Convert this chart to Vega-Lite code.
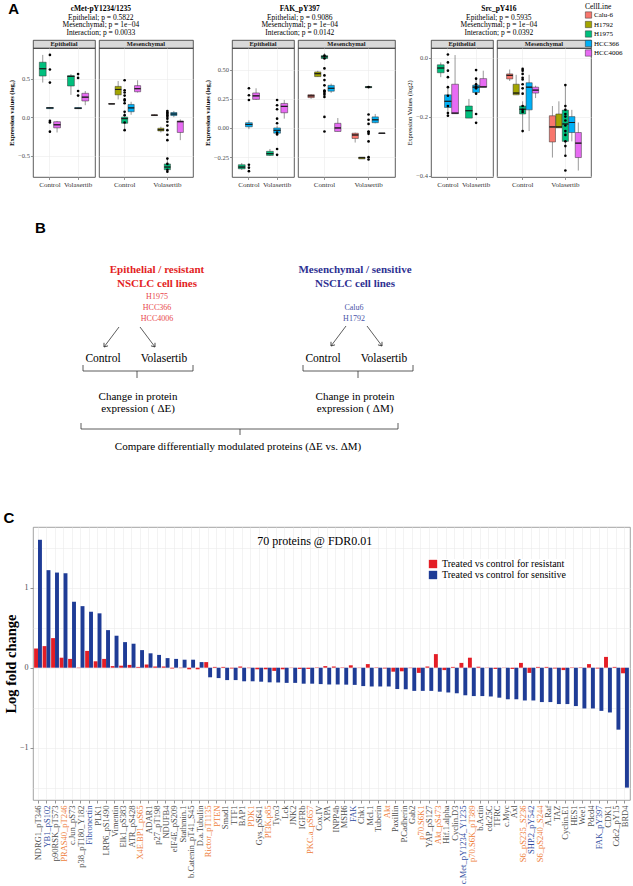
{
"$schema": "https://vega.github.io/schema/vega-lite/v6.json",
"padding": {"left": 3, "top": 2, "right": 0, "bottom": 0},
"background": "white",
"config": {
  "font": "Liberation Serif",
  "axis": {"gridColor": "#EBEBEB", "gridWidth": 0.6, "tickColor": "#4D4D4D", "tickWidth": 0.6, "domain": false, "labelFont": "Liberation Serif", "titleFont": "Liberation Serif", "labelOverlap": false},
  "title": {"font": "Liberation Serif", "color": "#000000"},
  "legend": {"labelFont": "Liberation Serif", "titleFont": "Liberation Serif"},
  "text": {"font": "Liberation Serif"}
},
"datasets": {
  "boxes": [
    {"p":"cMet","g":"E","t":"Control","c":"H1975","lo":0.45,"q1":0.535,"med":0.63,"q3":0.715,"hi":0.81},
    {"p":"cMet","g":"E","t":"Control","c":"HCC366","lo":0.105,"q1":0.11,"med":0.12,"q3":0.125,"hi":0.13},
    {"p":"cMet","g":"E","t":"Control","c":"HCC4006","lo":-0.2,"q1":-0.14,"med":-0.1,"q3":-0.06,"hi":-0.05},
    {"p":"cMet","g":"E","t":"Volasertib","c":"H1975","lo":0.29,"q1":0.405,"med":0.53,"q3":0.54,"hi":0.56},
    {"p":"cMet","g":"E","t":"Volasertib","c":"HCC366","lo":0.105,"q1":0.11,"med":0.115,"q3":0.125,"hi":0.13},
    {"p":"cMet","g":"E","t":"Volasertib","c":"HCC4006","lo":0.155,"q1":0.21,"med":0.26,"q3":0.31,"hi":0.34},
    {"p":"cMet","g":"M","t":"Control","c":"Calu-6","lo":0.17,"q1":0.17,"med":0.172,"q3":0.175,"hi":0.175},
    {"p":"cMet","g":"M","t":"Control","c":"H1792","lo":0.23,"q1":0.29,"med":0.36,"q3":0.4,"hi":0.47},
    {"p":"cMet","g":"M","t":"Control","c":"H1975","lo":-0.155,"q1":-0.08,"med":-0.02,"q3":0.0,"hi":0.08},
    {"p":"cMet","g":"M","t":"Control","c":"HCC366","lo":0.03,"q1":0.07,"med":0.12,"q3":0.165,"hi":0.2},
    {"p":"cMet","g":"M","t":"Control","c":"HCC4006","lo":0.32,"q1":0.33,"med":0.37,"q3":0.41,"hi":0.48},
    {"p":"cMet","g":"M","t":"Volasertib","c":"Calu-6","lo":0.015,"q1":0.02,"med":0.025,"q3":0.03,"hi":0.035},
    {"p":"cMet","g":"M","t":"Volasertib","c":"H1792","lo":-0.2,"q1":-0.18,"med":-0.165,"q3":-0.145,"hi":-0.125},
    {"p":"cMet","g":"M","t":"Volasertib","c":"H1975","lo":-0.71,"q1":-0.685,"med":-0.65,"q3":-0.61,"hi":-0.535},
    {"p":"cMet","g":"M","t":"Volasertib","c":"HCC366","lo":0.0,"q1":0.02,"med":0.04,"q3":0.06,"hi":0.08},
    {"p":"cMet","g":"M","t":"Volasertib","c":"HCC4006","lo":-0.3,"q1":-0.2,"med":-0.06,"q3":-0.05,"hi":-0.03},
    {"p":"FAK","g":"E","t":"Control","c":"H1975","lo":-0.36,"q1":-0.35,"med":-0.335,"q3":-0.315,"hi":-0.3},
    {"p":"FAK","g":"E","t":"Control","c":"HCC366","lo":-0.01,"q1":0.01,"med":0.03,"q3":0.045,"hi":0.065},
    {"p":"FAK","g":"E","t":"Control","c":"HCC4006","lo":0.24,"q1":0.245,"med":0.275,"q3":0.3,"hi":0.34},
    {"p":"FAK","g":"E","t":"Volasertib","c":"H1975","lo":-0.24,"q1":-0.235,"med":-0.22,"q3":-0.2,"hi":-0.18},
    {"p":"FAK","g":"E","t":"Volasertib","c":"HCC366","lo":-0.06,"q1":-0.045,"med":-0.02,"q3":0.0,"hi":0.02},
    {"p":"FAK","g":"E","t":"Volasertib","c":"HCC4006","lo":0.08,"q1":0.13,"med":0.185,"q3":0.21,"hi":0.24},
    {"p":"FAK","g":"M","t":"Control","c":"Calu-6","lo":0.25,"q1":0.26,"med":0.275,"q3":0.285,"hi":0.29},
    {"p":"FAK","g":"M","t":"Control","c":"H1792","lo":0.44,"q1":0.44,"med":0.465,"q3":0.48,"hi":0.49},
    {"p":"FAK","g":"M","t":"Control","c":"H1975","lo":0.59,"q1":0.595,"med":0.61,"q3":0.62,"hi":0.64},
    {"p":"FAK","g":"M","t":"Control","c":"HCC366","lo":0.3,"q1":0.315,"med":0.34,"q3":0.365,"hi":0.38},
    {"p":"FAK","g":"M","t":"Control","c":"HCC4006","lo":-0.03,"q1":-0.03,"med":0.0,"q3":0.04,"hi":0.085},
    {"p":"FAK","g":"M","t":"Volasertib","c":"Calu-6","lo":-0.125,"q1":-0.09,"med":-0.06,"q3":-0.045,"hi":-0.04},
    {"p":"FAK","g":"M","t":"Volasertib","c":"H1792","lo":-0.265,"q1":-0.265,"med":-0.255,"q3":-0.25,"hi":-0.25},
    {"p":"FAK","g":"M","t":"Volasertib","c":"H1975","lo":0.345,"q1":0.345,"med":0.35,"q3":0.355,"hi":0.355},
    {"p":"FAK","g":"M","t":"Volasertib","c":"HCC366","lo":0.04,"q1":0.045,"med":0.07,"q3":0.095,"hi":0.12},
    {"p":"FAK","g":"M","t":"Volasertib","c":"HCC4006","lo":-0.047,"q1":-0.047,"med":-0.045,"q3":-0.043,"hi":-0.043},
    {"p":"Src","g":"E","t":"Control","c":"H1975","lo":-0.066,"q1":-0.051,"med":-0.035,"q3":-0.024,"hi":-0.016},
    {"p":"Src","g":"E","t":"Control","c":"HCC366","lo":-0.197,"q1":-0.169,"med":-0.148,"q3":-0.126,"hi":-0.1},
    {"p":"Src","g":"E","t":"Control","c":"HCC4006","lo":-0.191,"q1":-0.19,"med":-0.188,"q3":-0.09,"hi":0.009},
    {"p":"Src","g":"E","t":"Volasertib","c":"H1975","lo":-0.205,"q1":-0.205,"med":-0.18,"q3":-0.164,"hi":-0.14},
    {"p":"Src","g":"E","t":"Volasertib","c":"HCC366","lo":-0.123,"q1":-0.118,"med":-0.1,"q3":-0.093,"hi":-0.068},
    {"p":"Src","g":"E","t":"Volasertib","c":"HCC4006","lo":-0.1,"q1":-0.1,"med":-0.099,"q3":-0.071,"hi":-0.044},
    {"p":"Src","g":"M","t":"Control","c":"Calu-6","lo":-0.079,"q1":-0.072,"med":-0.06,"q3":-0.055,"hi":-0.04},
    {"p":"Src","g":"M","t":"Control","c":"H1792","lo":-0.126,"q1":-0.126,"med":-0.12,"q3":-0.09,"hi":-0.058},
    {"p":"Src","g":"M","t":"Control","c":"H1975","lo":-0.251,"q1":-0.191,"med":-0.175,"q3":-0.164,"hi":-0.148},
    {"p":"Src","g":"M","t":"Control","c":"HCC366","lo":-0.249,"q1":-0.177,"med":-0.1,"q3":-0.085,"hi":-0.058},
    {"p":"Src","g":"M","t":"Control","c":"HCC4006","lo":-0.137,"q1":-0.12,"med":-0.11,"q3":-0.1,"hi":-0.095},
    {"p":"Src","g":"M","t":"Volasertib","c":"Calu-6","lo":-0.339,"q1":-0.286,"med":-0.235,"q3":-0.197,"hi":-0.164},
    {"p":"Src","g":"M","t":"Volasertib","c":"H1792","lo":-0.238,"q1":-0.238,"med":-0.235,"q3":-0.191,"hi":-0.148},
    {"p":"Src","g":"M","t":"Volasertib","c":"H1975","lo":-0.333,"q1":-0.284,"med":-0.225,"q3":-0.178,"hi":-0.093},
    {"p":"Src","g":"M","t":"Volasertib","c":"HCC366","lo":-0.284,"q1":-0.254,"med":-0.22,"q3":-0.2,"hi":-0.177},
    {"p":"Src","g":"M","t":"Volasertib","c":"HCC4006","lo":-0.383,"q1":-0.339,"med":-0.29,"q3":-0.254,"hi":-0.22}
  ],
  "dots": [
    {"p":"cMet","g":"E","t":"Control","v":0.81},{"p":"cMet","g":"E","t":"Control","v":0.62},{"p":"cMet","g":"E","t":"Control","v":0.45},{"p":"cMet","g":"E","t":"Control","v":-0.05},{"p":"cMet","g":"E","t":"Control","v":-0.07},{"p":"cMet","g":"E","t":"Control","v":-0.19},
    {"p":"cMet","g":"E","t":"Volasertib","v":0.56},{"p":"cMet","g":"E","t":"Volasertib","v":0.51},{"p":"cMet","g":"E","t":"Volasertib","v":0.34},{"p":"cMet","g":"E","t":"Volasertib","v":0.28},
    {"p":"cMet","g":"M","t":"Control","v":0.48},{"p":"cMet","g":"M","t":"Control","v":0.35},{"p":"cMet","g":"M","t":"Control","v":0.32},{"p":"cMet","g":"M","t":"Control","v":0.28},{"p":"cMet","g":"M","t":"Control","v":0.23},{"p":"cMet","g":"M","t":"Control","v":0.215},{"p":"cMet","g":"M","t":"Control","v":0.18},{"p":"cMet","g":"M","t":"Control","v":0.07},{"p":"cMet","g":"M","t":"Control","v":0.025},{"p":"cMet","g":"M","t":"Control","v":-0.07},{"p":"cMet","g":"M","t":"Control","v":-0.17},
    {"p":"cMet","g":"M","t":"Volasertib","v":0.08},{"p":"cMet","g":"M","t":"Volasertib","v":0.06},{"p":"cMet","g":"M","t":"Volasertib","v":0.045},{"p":"cMet","g":"M","t":"Volasertib","v":0.025},{"p":"cMet","g":"M","t":"Volasertib","v":0.005},{"p":"cMet","g":"M","t":"Volasertib","v":-0.02},{"p":"cMet","g":"M","t":"Volasertib","v":-0.06},{"p":"cMet","g":"M","t":"Volasertib","v":-0.11},{"p":"cMet","g":"M","t":"Volasertib","v":-0.17},{"p":"cMet","g":"M","t":"Volasertib","v":-0.23},{"p":"cMet","g":"M","t":"Volasertib","v":-0.3},{"p":"cMet","g":"M","t":"Volasertib","v":-0.54},{"p":"cMet","g":"M","t":"Volasertib","v":-0.61},{"p":"cMet","g":"M","t":"Volasertib","v":-0.685},{"p":"cMet","g":"M","t":"Volasertib","v":-0.71},
    {"p":"FAK","g":"E","t":"Control","v":0.34},{"p":"FAK","g":"E","t":"Control","v":0.28},{"p":"FAK","g":"E","t":"Control","v":0.24},{"p":"FAK","g":"E","t":"Control","v":-0.315},{"p":"FAK","g":"E","t":"Control","v":-0.34},{"p":"FAK","g":"E","t":"Control","v":-0.37},
    {"p":"FAK","g":"E","t":"Volasertib","v":0.24},{"p":"FAK","g":"E","t":"Volasertib","v":0.195},{"p":"FAK","g":"E","t":"Volasertib","v":0.16},{"p":"FAK","g":"E","t":"Volasertib","v":0.08},{"p":"FAK","g":"E","t":"Volasertib","v":0.04},{"p":"FAK","g":"E","t":"Volasertib","v":-0.04},{"p":"FAK","g":"E","t":"Volasertib","v":-0.055},{"p":"FAK","g":"E","t":"Volasertib","v":-0.18},{"p":"FAK","g":"E","t":"Volasertib","v":-0.23},
    {"p":"FAK","g":"M","t":"Control","v":0.62},{"p":"FAK","g":"M","t":"Control","v":0.595},{"p":"FAK","g":"M","t":"Control","v":0.51},{"p":"FAK","g":"M","t":"Control","v":0.45},{"p":"FAK","g":"M","t":"Control","v":0.41},{"p":"FAK","g":"M","t":"Control","v":0.365},{"p":"FAK","g":"M","t":"Control","v":0.32},{"p":"FAK","g":"M","t":"Control","v":0.315},{"p":"FAK","g":"M","t":"Control","v":0.3},{"p":"FAK","g":"M","t":"Control","v":0.285},{"p":"FAK","g":"M","t":"Control","v":0.265},{"p":"FAK","g":"M","t":"Control","v":0.095},{"p":"FAK","g":"M","t":"Control","v":-0.03},
    {"p":"FAK","g":"M","t":"Volasertib","v":0.35},{"p":"FAK","g":"M","t":"Volasertib","v":0.115},{"p":"FAK","g":"M","t":"Volasertib","v":0.07},{"p":"FAK","g":"M","t":"Volasertib","v":0.035},{"p":"FAK","g":"M","t":"Volasertib","v":-0.03},{"p":"FAK","g":"M","t":"Volasertib","v":-0.035},{"p":"FAK","g":"M","t":"Volasertib","v":-0.05},{"p":"FAK","g":"M","t":"Volasertib","v":-0.115},{"p":"FAK","g":"M","t":"Volasertib","v":-0.25},{"p":"FAK","g":"M","t":"Volasertib","v":-0.27},
    {"p":"Src","g":"E","t":"Control","v":0.011},{"p":"Src","g":"E","t":"Control","v":-0.016},{"p":"Src","g":"E","t":"Control","v":-0.044},{"p":"Src","g":"E","t":"Control","v":-0.066},{"p":"Src","g":"E","t":"Control","v":-0.1},{"p":"Src","g":"E","t":"Control","v":-0.129},{"p":"Src","g":"E","t":"Control","v":-0.164},{"p":"Src","g":"E","t":"Control","v":-0.188},{"p":"Src","g":"E","t":"Control","v":-0.197},
    {"p":"Src","g":"E","t":"Volasertib","v":-0.042},{"p":"Src","g":"E","t":"Volasertib","v":-0.071},{"p":"Src","g":"E","t":"Volasertib","v":-0.09},{"p":"Src","g":"E","t":"Volasertib","v":-0.098},{"p":"Src","g":"E","t":"Volasertib","v":-0.104},{"p":"Src","g":"E","t":"Volasertib","v":-0.122},{"p":"Src","g":"E","t":"Volasertib","v":-0.191},{"p":"Src","g":"E","t":"Volasertib","v":-0.221},
    {"p":"Src","g":"M","t":"Control","v":-0.038},{"p":"Src","g":"M","t":"Control","v":-0.044},{"p":"Src","g":"M","t":"Control","v":-0.055},{"p":"Src","g":"M","t":"Control","v":-0.068},{"p":"Src","g":"M","t":"Control","v":-0.074},{"p":"Src","g":"M","t":"Control","v":-0.09},{"p":"Src","g":"M","t":"Control","v":-0.104},{"p":"Src","g":"M","t":"Control","v":-0.122},{"p":"Src","g":"M","t":"Control","v":-0.164},{"p":"Src","g":"M","t":"Control","v":-0.177},{"p":"Src","g":"M","t":"Control","v":-0.184},{"p":"Src","g":"M","t":"Control","v":-0.249},
    {"p":"Src","g":"M","t":"Volasertib","v":-0.093},{"p":"Src","g":"M","t":"Volasertib","v":-0.164},{"p":"Src","g":"M","t":"Volasertib","v":-0.177},{"p":"Src","g":"M","t":"Volasertib","v":-0.191},{"p":"Src","g":"M","t":"Volasertib","v":-0.2},{"p":"Src","g":"M","t":"Volasertib","v":-0.213},{"p":"Src","g":"M","t":"Volasertib","v":-0.23},{"p":"Src","g":"M","t":"Volasertib","v":-0.249},{"p":"Src","g":"M","t":"Volasertib","v":-0.262},{"p":"Src","g":"M","t":"Volasertib","v":-0.284},{"p":"Src","g":"M","t":"Volasertib","v":-0.3},{"p":"Src","g":"M","t":"Volasertib","v":-0.333},{"p":"Src","g":"M","t":"Volasertib","v":-0.383}
  ],
  "diag": [
    {"x":5,"y":226,"text":"B","kind":"letter"},
    {"x":127,"y":268,"text":"Epithelial / resistant","kind":"headE"},
    {"x":127,"y":282,"text":"NSCLC cell lines","kind":"headE"},
    {"x":325,"y":268,"text":"Mesenchymal / sensitive","kind":"headM"},
    {"x":325,"y":282,"text":"NSCLC cell lines","kind":"headM"},
    {"x":127,"y":295,"text":"H1975","kind":"cellE"},
    {"x":127,"y":306,"text":"HCC366","kind":"cellE"},
    {"x":127,"y":317,"text":"HCC4006","kind":"cellE"},
    {"x":324,"y":306,"text":"Calu6","kind":"cellM"},
    {"x":324,"y":317,"text":"H1792","kind":"cellM"},
    {"x":73,"y":357,"text":"Control","kind":"cond"},
    {"x":134,"y":357,"text":"Volasertib","kind":"cond"},
    {"x":293,"y":357,"text":"Control","kind":"cond"},
    {"x":354,"y":357,"text":"Volasertib","kind":"cond"},
    {"x":108,"y":395,"text":"Change in protein","kind":"change"},
    {"x":108,"y":407,"text":"expression ( ΔE)","kind":"change"},
    {"x":325,"y":395,"text":"Change in protein","kind":"change"},
    {"x":325,"y":407,"text":"expression ( ΔM)","kind":"change"},
    {"x":208,"y":445,"text":"Compare differentially modulated proteins (ΔE vs. ΔM)","kind":"change"}
  ],
  "lines": [
    {"x":89,"y":325,"x2":74,"y2":345},{"x":110,"y":325,"x2":125,"y2":345},
    {"x":316,"y":324,"x2":301,"y2":344},{"x":337,"y":324,"x2":352,"y2":344},
    {"x":53,"y":369,"x2":163,"y2":369},{"x":53,"y":369,"x2":53,"y2":363},{"x":163,"y":369,"x2":163,"y2":363},{"x":107,"y":369,"x2":107,"y2":376},
    {"x":273,"y":369,"x2":383,"y2":369},{"x":273,"y":369,"x2":273,"y2":363},{"x":383,"y":369,"x2":383,"y2":363},{"x":328,"y":369,"x2":328,"y2":376},
    {"x":51,"y":427,"x2":368,"y2":427},{"x":51,"y":427,"x2":51,"y2":421},{"x":368,"y":427,"x2":368,"y2":421},{"x":210,"y":427,"x2":210,"y2":433}
  ],
  "heads": [
    {"x":74,"y":345,"dir":"left"},{"x":301,"y":344,"dir":"left"},
    {"x":125,"y":345,"dir":"right"},{"x":352,"y":344,"dir":"right"}
  ],
  "fc": [
    {"protein":"NDRG1_pT346","resistant":0.24,"sensitive":1.6},
    {"protein":"YB1_pS102","resistant":0.27,"sensitive":1.22},
    {"protein":"p90RSK_pT573","resistant":0.37,"sensitive":1.19},
    {"protein":"PRAS40_pT246","resistant":0.125,"sensitive":1.18},
    {"protein":"c.Jun_pS73","resistant":0.11,"sensitive":0.825},
    {"protein":"p38_pT180_Y182","resistant":-0.005,"sensitive":0.77},
    {"protein":"Fibronectin","resistant":0.21,"sensitive":0.7},
    {"protein":"PLK1","resistant":0.08,"sensitive":0.68},
    {"protein":"LRP6_pS1490","resistant":0.11,"sensitive":0.47},
    {"protein":"Vimentin","resistant":0.02,"sensitive":0.4},
    {"protein":"Elk1_pS383","resistant":0.025,"sensitive":0.32},
    {"protein":"ATR_pS428","resistant":0.035,"sensitive":0.3},
    {"protein":"X4E.BP1_pS65","resistant":0.01,"sensitive":0.22},
    {"protein":"ADAR1","resistant":0.04,"sensitive":0.18},
    {"protein":"p27_pT198","resistant":0.015,"sensitive":0.16},
    {"protein":"NDUFB4","resistant":0.015,"sensitive":0.12},
    {"protein":"eIF4E_pS209","resistant":-0.01,"sensitive":0.11},
    {"protein":"Stathmin.1","resistant":-0.005,"sensitive":0.1},
    {"protein":"b.Catenin_pT41_S45","resistant":-0.02,"sensitive":0.1},
    {"protein":"D.a.Tubulin","resistant":-0.02,"sensitive":0.07},
    {"protein":"Rictor_pT1135","resistant":0.07,"sensitive":-0.12},
    {"protein":"PTEN","resistant":0.01,"sensitive":-0.13},
    {"protein":"Smad1","resistant":0.01,"sensitive":-0.155},
    {"protein":"TTF1","resistant":-0.01,"sensitive":-0.155},
    {"protein":"BAP1","resistant":0.015,"sensitive":-0.17},
    {"protein":"PDK1","resistant":-0.005,"sensitive":-0.17},
    {"protein":"Gys_pS641","resistant":-0.02,"sensitive":-0.175},
    {"protein":"PI3K.p85","resistant":-0.02,"sensitive":-0.183},
    {"protein":"Tyro3","resistant":-0.04,"sensitive":-0.185},
    {"protein":"Lck","resistant":-0.02,"sensitive":-0.19},
    {"protein":"JNK2","resistant":0.003,"sensitive":-0.19},
    {"protein":"IGFRb","resistant":-0.015,"sensitive":-0.2},
    {"protein":"PKC.a_pS657","resistant":-0.015,"sensitive":-0.2},
    {"protein":"Cox.IV","resistant":0.005,"sensitive":-0.205},
    {"protein":"XPA","resistant":0.02,"sensitive":-0.21},
    {"protein":"INPP4b","resistant":0.015,"sensitive":-0.21},
    {"protein":"MSH6","resistant":0.005,"sensitive":-0.212},
    {"protein":"FAK","resistant":0.03,"sensitive":-0.215},
    {"protein":"Chk1","resistant":0.003,"sensitive":-0.23},
    {"protein":"Mcl.1","resistant":0.045,"sensitive":-0.235},
    {"protein":"Tuberin","resistant":0.005,"sensitive":-0.235},
    {"protein":"Akt","resistant":-0.01,"sensitive":-0.235},
    {"protein":"Paxillin","resistant":-0.05,"sensitive":-0.267},
    {"protein":"P.Cadherin","resistant":-0.045,"sensitive":-0.27},
    {"protein":"Gab2","resistant":-0.005,"sensitive":-0.29},
    {"protein":"p70.S6K1","resistant":-0.065,"sensitive":-0.29},
    {"protein":"YAP_pS127","resistant":0.015,"sensitive":-0.29},
    {"protein":"Akt_pS473","resistant":0.17,"sensitive":-0.3},
    {"protein":"Hif.1.alpha","resistant":-0.03,"sensitive":-0.31},
    {"protein":"Cyclin.D3","resistant":0.01,"sensitive":-0.32},
    {"protein":"c.Met_pY1234_Y1235","resistant":0.06,"sensitive":-0.345},
    {"protein":"p70.S6K_pT389","resistant":0.125,"sensitive":-0.355},
    {"protein":"b.Actin","resistant":0.012,"sensitive":-0.355},
    {"protein":"cdc25C","resistant":0.003,"sensitive":-0.36},
    {"protein":"TFRC","resistant":-0.015,"sensitive":-0.375},
    {"protein":"c.Myc","resistant":0.003,"sensitive":-0.395},
    {"protein":"Axl","resistant":-0.015,"sensitive":-0.395},
    {"protein":"S6_pS235_S236","resistant":0.06,"sensitive":-0.41},
    {"protein":"SHP.2_pY542","resistant":-0.065,"sensitive":-0.41},
    {"protein":"S6_pS240_S244","resistant":0.01,"sensitive":-0.43},
    {"protein":"A.Raf","resistant":0.01,"sensitive":-0.43},
    {"protein":"TAZ","resistant":-0.01,"sensitive":-0.455},
    {"protein":"Cyclin.E1","resistant":-0.03,"sensitive":-0.455},
    {"protein":"HES1","resistant":0.005,"sensitive":-0.48},
    {"protein":"Wee1","resistant":0.005,"sensitive":-0.51},
    {"protein":"Pdcd4","resistant":0.045,"sensitive":-0.51},
    {"protein":"FAK_pY397","resistant":-0.01,"sensitive":-0.54},
    {"protein":"CDK1","resistant":0.135,"sensitive":-0.56},
    {"protein":"Cdc2_pY15","resistant":0.01,"sensitive":-0.775},
    {"protein":"BRD4","resistant":-0.07,"sensitive":-1.5}
  ]
},
"spacing": 8,
"vconcat": [
  {
    "title": {"text": "A", "anchor": "start", "frame": "bounds", "font": "Liberation Sans", "fontSize": 15, "fontWeight": "bold", "offset": -12},
    "spacing": 10,
    "resolve": {"scale": {"x": "independent", "y": "independent", "xOffset": "independent"}},
    "hconcat": [
      {
        "title": {"text": "cMet-pY1234/1235", "subtitle": ["Epithelial; p = 0.5822", "Mesenchymal; p = 1e−04", "Interaction; p = 0.0033"], "fontSize": 7.5, "fontWeight": "bold", "subtitleFontSize": 7.5, "subtitleColor": "#000000", "subtitleFont": "Liberation Serif", "subtitleLineHeight": 7.8, "subtitlePadding": 1, "offset": 3, "anchor": "middle"},
        "spacing": 2,
        "resolve": {"scale": {"x": "independent", "y": "independent", "xOffset": "independent"}},
        "hconcat": [
          {"spacing": 0, "bounds": "flush", "vconcat": [
            {"data": {"values": [{"strip": "Epithelial"}]}, "width": 62, "height": 8, "view": {"fill": "#D9D9D9", "stroke": "#333333", "strokeWidth": 0.8}, "mark": {"type": "text", "fontWeight": "bold", "fontSize": 6.5, "color": "#1A1A1A", "baseline": "middle"}, "encoding": {"text": {"field": "strip", "type": "nominal"}}},
            {"width": 62, "height": 129, "view": {"stroke": "#333333", "strokeWidth": 0.8},
             "encoding": {"x": {"field": "t", "type": "nominal", "scale": {"domain": ["Control", "Volasertib"], "paddingInner": 0.25, "paddingOuter": 0.225}, "axis": {"title": null, "labelAngle": 0, "grid": true, "bandPosition": 0.5, "labelFontSize": 7, "labelColor": "#333333", "tickSize": 2.5, "labelPadding": 1}}},
             "layer": [
              {"data": {"name": "boxes"}, "transform": [{"filter": "datum.p == 'cMet' && datum.g == 'E'"}], "mark": {"type": "rule", "color": "#333333", "strokeWidth": 0.5},
               "encoding": {"xOffset": {"field": "c", "type": "nominal", "scale": {"domain": ["H1975", "HCC366", "HCC4006"], "paddingInner": 0.05}},
                 "y": {"field": "lo", "type": "quantitative", "scale": {"domain": [-0.78, 0.9], "nice": false, "zero": false}, "axis": {"title": "Expression values (log₂)", "titleFontSize": 6.5, "titleFontWeight": "bold", "titleColor": "#000000", "labelFontSize": 6.5, "labelColor": "#4D4D4D", "labelOverlap": false, "values": [-0.5, 0, 0.5], "format": ".1f", "grid": true, "tickSize": 2.5, "titlePadding": 3, "labelPadding": 1}},
                 "y2": {"field": "hi"}}},
              {"data": {"name": "boxes"}, "transform": [{"filter": "datum.p == 'cMet' && datum.g == 'E'"}], "mark": {"type": "bar", "stroke": "#333333", "strokeWidth": 0.5},
               "encoding": {"xOffset": {"field": "c", "type": "nominal", "scale": {"domain": ["H1975", "HCC366", "HCC4006"], "paddingInner": 0.05}}, "y": {"field": "q1", "type": "quantitative"}, "y2": {"field": "q3"},
                 "fill": {"field": "c", "type": "nominal", "title": "CellLine", "scale": {"domain": ["Calu-6", "H1792", "H1975", "HCC366", "HCC4006"], "range": ["#F8766D", "#A3A500", "#00BF7D", "#00B0F6", "#E76BF3"]}, "legend": {"orient": "none", "legendX": 552, "legendY": -37, "symbolType": "square", "symbolSize": 40, "symbolStrokeColor": "#333333", "symbolStrokeWidth": 0.5, "labelFontSize": 7, "titleFontSize": 7.5, "titleFontWeight": "normal", "rowPadding": 0.5, "titlePadding": 1, "labelOffset": 2}}}},
              {"data": {"name": "boxes"}, "transform": [{"filter": "datum.p == 'cMet' && datum.g == 'E'"}], "mark": {"type": "bar", "fillOpacity": 0, "stroke": "#1A1A1A", "strokeWidth": 0.9},
               "encoding": {"xOffset": {"field": "c", "type": "nominal", "scale": {"domain": ["H1975", "HCC366", "HCC4006"], "paddingInner": 0.05}}, "y": {"field": "med", "type": "quantitative"}, "y2": {"field": "med"}}},
              {"data": {"name": "dots"}, "transform": [{"filter": "datum.p == 'cMet' && datum.g == 'E'"}], "mark": {"type": "point", "filled": true, "color": "#000000", "size": 7, "opacity": 1},
               "encoding": {"y": {"field": "v", "type": "quantitative"}}}
             ]}
          ]},
          {"spacing": 0, "bounds": "flush", "vconcat": [
            {"data": {"values": [{"strip": "Mesenchymal"}]}, "width": 94, "height": 8, "view": {"fill": "#D9D9D9", "stroke": "#333333", "strokeWidth": 0.8}, "mark": {"type": "text", "fontWeight": "bold", "fontSize": 6.5, "color": "#1A1A1A", "baseline": "middle"}, "encoding": {"text": {"field": "strip", "type": "nominal"}}},
            {"width": 94, "height": 129, "view": {"stroke": "#333333", "strokeWidth": 0.8},
             "encoding": {"x": {"field": "t", "type": "nominal", "scale": {"domain": ["Control", "Volasertib"], "paddingInner": 0.25, "paddingOuter": 0.225}, "axis": {"title": null, "labelAngle": 0, "grid": true, "bandPosition": 0.5, "labelFontSize": 7, "labelColor": "#333333", "tickSize": 2.5, "labelPadding": 1}}},
             "layer": [
              {"data": {"name": "boxes"}, "transform": [{"filter": "datum.p == 'cMet' && datum.g == 'M'"}], "mark": {"type": "rule", "color": "#333333", "strokeWidth": 0.5},
               "encoding": {"xOffset": {"field": "c", "type": "nominal", "scale": {"domain": ["Calu-6", "H1792", "H1975", "HCC366", "HCC4006"], "paddingInner": 0.05}},
                 "y": {"field": "lo", "type": "quantitative", "scale": {"domain": [-0.78, 0.9], "nice": false, "zero": false}, "axis": {"title": null, "labels": false, "ticks": false, "grid": true, "values": [-0.5, 0, 0.5]}},
                 "y2": {"field": "hi"}}},
              {"data": {"name": "boxes"}, "transform": [{"filter": "datum.p == 'cMet' && datum.g == 'M'"}], "mark": {"type": "bar", "stroke": "#333333", "strokeWidth": 0.5},
               "encoding": {"xOffset": {"field": "c", "type": "nominal", "scale": {"domain": ["Calu-6", "H1792", "H1975", "HCC366", "HCC4006"], "paddingInner": 0.05}}, "y": {"field": "q1", "type": "quantitative"}, "y2": {"field": "q3"},
                 "fill": {"field": "c", "type": "nominal", "title": "CellLine", "scale": {"domain": ["Calu-6", "H1792", "H1975", "HCC366", "HCC4006"], "range": ["#F8766D", "#A3A500", "#00BF7D", "#00B0F6", "#E76BF3"]}, "legend": {"orient": "none", "legendX": 552, "legendY": -37, "symbolType": "square", "symbolSize": 40, "symbolStrokeColor": "#333333", "symbolStrokeWidth": 0.5, "labelFontSize": 7, "titleFontSize": 7.5, "titleFontWeight": "normal", "rowPadding": 0.5, "titlePadding": 1, "labelOffset": 2}}}},
              {"data": {"name": "boxes"}, "transform": [{"filter": "datum.p == 'cMet' && datum.g == 'M'"}], "mark": {"type": "bar", "fillOpacity": 0, "stroke": "#1A1A1A", "strokeWidth": 0.9},
               "encoding": {"xOffset": {"field": "c", "type": "nominal", "scale": {"domain": ["Calu-6", "H1792", "H1975", "HCC366", "HCC4006"], "paddingInner": 0.05}}, "y": {"field": "med", "type": "quantitative"}, "y2": {"field": "med"}}},
              {"data": {"name": "dots"}, "transform": [{"filter": "datum.p == 'cMet' && datum.g == 'M'"}], "mark": {"type": "point", "filled": true, "color": "#000000", "size": 7, "opacity": 1},
               "encoding": {"y": {"field": "v", "type": "quantitative"}}}
             ]}
          ]}
        ]
      },
      {
        "title": {"text": "FAK_pY397", "subtitle": ["Epithelial; p = 0.9086", "Mesenchymal; p = 1e−04", "Interaction; p = 0.0142"], "fontSize": 7.5, "fontWeight": "bold", "subtitleFontSize": 7.5, "subtitleColor": "#000000", "subtitleFont": "Liberation Serif", "subtitleLineHeight": 7.8, "subtitlePadding": 1, "offset": 3, "anchor": "middle"},
        "spacing": 2,
        "resolve": {"scale": {"x": "independent", "y": "independent", "xOffset": "independent"}},
        "hconcat": [
          {"spacing": 0, "bounds": "flush", "vconcat": [
            {"data": {"values": [{"strip": "Epithelial"}]}, "width": 62, "height": 8, "view": {"fill": "#D9D9D9", "stroke": "#333333", "strokeWidth": 0.8}, "mark": {"type": "text", "fontWeight": "bold", "fontSize": 6.5, "color": "#1A1A1A", "baseline": "middle"}, "encoding": {"text": {"field": "strip", "type": "nominal"}}},
            {"width": 62, "height": 129, "view": {"stroke": "#333333", "strokeWidth": 0.8},
             "encoding": {"x": {"field": "t", "type": "nominal", "scale": {"domain": ["Control", "Volasertib"], "paddingInner": 0.25, "paddingOuter": 0.225}, "axis": {"title": null, "labelAngle": 0, "grid": true, "bandPosition": 0.5, "labelFontSize": 7, "labelColor": "#333333", "tickSize": 2.5, "labelPadding": 1}}},
             "layer": [
              {"data": {"name": "boxes"}, "transform": [{"filter": "datum.p == 'FAK' && datum.g == 'E'"}], "mark": {"type": "rule", "color": "#333333", "strokeWidth": 0.5},
               "encoding": {"xOffset": {"field": "c", "type": "nominal", "scale": {"domain": ["H1975", "HCC366", "HCC4006"], "paddingInner": 0.05}},
                 "y": {"field": "lo", "type": "quantitative", "scale": {"domain": [-0.42, 0.685], "nice": false, "zero": false}, "axis": {"title": "Expression values (log₂)", "titleFontSize": 6.5, "titleFontWeight": "bold", "titleColor": "#000000", "labelFontSize": 6.5, "labelColor": "#4D4D4D", "labelOverlap": false, "values": [-0.25, 0, 0.25, 0.5], "format": ".2f", "grid": true, "tickSize": 2.5, "titlePadding": 3, "labelPadding": 1}},
                 "y2": {"field": "hi"}}},
              {"data": {"name": "boxes"}, "transform": [{"filter": "datum.p == 'FAK' && datum.g == 'E'"}], "mark": {"type": "bar", "stroke": "#333333", "strokeWidth": 0.5},
               "encoding": {"xOffset": {"field": "c", "type": "nominal", "scale": {"domain": ["H1975", "HCC366", "HCC4006"], "paddingInner": 0.05}}, "y": {"field": "q1", "type": "quantitative"}, "y2": {"field": "q3"},
                 "fill": {"field": "c", "type": "nominal", "title": "CellLine", "scale": {"domain": ["Calu-6", "H1792", "H1975", "HCC366", "HCC4006"], "range": ["#F8766D", "#A3A500", "#00BF7D", "#00B0F6", "#E76BF3"]}, "legend": {"orient": "none", "legendX": 552, "legendY": -37, "symbolType": "square", "symbolSize": 40, "symbolStrokeColor": "#333333", "symbolStrokeWidth": 0.5, "labelFontSize": 7, "titleFontSize": 7.5, "titleFontWeight": "normal", "rowPadding": 0.5, "titlePadding": 1, "labelOffset": 2}}}},
              {"data": {"name": "boxes"}, "transform": [{"filter": "datum.p == 'FAK' && datum.g == 'E'"}], "mark": {"type": "bar", "fillOpacity": 0, "stroke": "#1A1A1A", "strokeWidth": 0.9},
               "encoding": {"xOffset": {"field": "c", "type": "nominal", "scale": {"domain": ["H1975", "HCC366", "HCC4006"], "paddingInner": 0.05}}, "y": {"field": "med", "type": "quantitative"}, "y2": {"field": "med"}}},
              {"data": {"name": "dots"}, "transform": [{"filter": "datum.p == 'FAK' && datum.g == 'E'"}], "mark": {"type": "point", "filled": true, "color": "#000000", "size": 7, "opacity": 1},
               "encoding": {"y": {"field": "v", "type": "quantitative"}}}
             ]}
          ]},
          {"spacing": 0, "bounds": "flush", "vconcat": [
            {"data": {"values": [{"strip": "Mesenchymal"}]}, "width": 97, "height": 8, "view": {"fill": "#D9D9D9", "stroke": "#333333", "strokeWidth": 0.8}, "mark": {"type": "text", "fontWeight": "bold", "fontSize": 6.5, "color": "#1A1A1A", "baseline": "middle"}, "encoding": {"text": {"field": "strip", "type": "nominal"}}},
            {"width": 97, "height": 129, "view": {"stroke": "#333333", "strokeWidth": 0.8},
             "encoding": {"x": {"field": "t", "type": "nominal", "scale": {"domain": ["Control", "Volasertib"], "paddingInner": 0.25, "paddingOuter": 0.225}, "axis": {"title": null, "labelAngle": 0, "grid": true, "bandPosition": 0.5, "labelFontSize": 7, "labelColor": "#333333", "tickSize": 2.5, "labelPadding": 1}}},
             "layer": [
              {"data": {"name": "boxes"}, "transform": [{"filter": "datum.p == 'FAK' && datum.g == 'M'"}], "mark": {"type": "rule", "color": "#333333", "strokeWidth": 0.5},
               "encoding": {"xOffset": {"field": "c", "type": "nominal", "scale": {"domain": ["Calu-6", "H1792", "H1975", "HCC366", "HCC4006"], "paddingInner": 0.05}},
                 "y": {"field": "lo", "type": "quantitative", "scale": {"domain": [-0.42, 0.685], "nice": false, "zero": false}, "axis": {"title": null, "labels": false, "ticks": false, "grid": true, "values": [-0.25, 0, 0.25, 0.5]}},
                 "y2": {"field": "hi"}}},
              {"data": {"name": "boxes"}, "transform": [{"filter": "datum.p == 'FAK' && datum.g == 'M'"}], "mark": {"type": "bar", "stroke": "#333333", "strokeWidth": 0.5},
               "encoding": {"xOffset": {"field": "c", "type": "nominal", "scale": {"domain": ["Calu-6", "H1792", "H1975", "HCC366", "HCC4006"], "paddingInner": 0.05}}, "y": {"field": "q1", "type": "quantitative"}, "y2": {"field": "q3"},
                 "fill": {"field": "c", "type": "nominal", "title": "CellLine", "scale": {"domain": ["Calu-6", "H1792", "H1975", "HCC366", "HCC4006"], "range": ["#F8766D", "#A3A500", "#00BF7D", "#00B0F6", "#E76BF3"]}, "legend": {"orient": "none", "legendX": 552, "legendY": -37, "symbolType": "square", "symbolSize": 40, "symbolStrokeColor": "#333333", "symbolStrokeWidth": 0.5, "labelFontSize": 7, "titleFontSize": 7.5, "titleFontWeight": "normal", "rowPadding": 0.5, "titlePadding": 1, "labelOffset": 2}}}},
              {"data": {"name": "boxes"}, "transform": [{"filter": "datum.p == 'FAK' && datum.g == 'M'"}], "mark": {"type": "bar", "fillOpacity": 0, "stroke": "#1A1A1A", "strokeWidth": 0.9},
               "encoding": {"xOffset": {"field": "c", "type": "nominal", "scale": {"domain": ["Calu-6", "H1792", "H1975", "HCC366", "HCC4006"], "paddingInner": 0.05}}, "y": {"field": "med", "type": "quantitative"}, "y2": {"field": "med"}}},
              {"data": {"name": "dots"}, "transform": [{"filter": "datum.p == 'FAK' && datum.g == 'M'"}], "mark": {"type": "point", "filled": true, "color": "#000000", "size": 7, "opacity": 1},
               "encoding": {"y": {"field": "v", "type": "quantitative"}}}
             ]}
          ]}
        ]
      },
      {
        "title": {"text": "Src_pY416", "subtitle": ["Epithelial; p = 0.5935", "Mesenchymal; p = 1e−04", "Interaction; p = 0.0392"], "fontSize": 7.5, "fontWeight": "bold", "subtitleFontSize": 7.5, "subtitleColor": "#000000", "subtitleFont": "Liberation Serif", "subtitleLineHeight": 7.8, "subtitlePadding": 1, "offset": 3, "anchor": "middle"},
        "spacing": 2,
        "resolve": {"scale": {"x": "independent", "y": "independent", "xOffset": "independent"}},
        "hconcat": [
          {"spacing": 0, "bounds": "flush", "vconcat": [
            {"data": {"values": [{"strip": "Epithelial"}]}, "width": 62, "height": 8, "view": {"fill": "#D9D9D9", "stroke": "#333333", "strokeWidth": 0.8}, "mark": {"type": "text", "fontWeight": "bold", "fontSize": 6.5, "color": "#1A1A1A", "baseline": "middle"}, "encoding": {"text": {"field": "strip", "type": "nominal"}}},
            {"width": 62, "height": 129, "view": {"stroke": "#333333", "strokeWidth": 0.8},
             "encoding": {"x": {"field": "t", "type": "nominal", "scale": {"domain": ["Control", "Volasertib"], "paddingInner": 0.25, "paddingOuter": 0.225}, "axis": {"title": null, "labelAngle": 0, "grid": true, "bandPosition": 0.5, "labelFontSize": 7, "labelColor": "#333333", "tickSize": 2.5, "labelPadding": 1}}},
             "layer": [
              {"data": {"name": "boxes"}, "transform": [{"filter": "datum.p == 'Src' && datum.g == 'E'"}], "mark": {"type": "rule", "color": "#333333", "strokeWidth": 0.5},
               "encoding": {"xOffset": {"field": "c", "type": "nominal", "scale": {"domain": ["H1975", "HCC366", "HCC4006"], "paddingInner": 0.05}},
                 "y": {"field": "lo", "type": "quantitative", "scale": {"domain": [-0.405, 0.033], "nice": false, "zero": false}, "axis": {"title": "Expression Values (log2)", "titleFontSize": 6.5, "titleFontWeight": "normal", "titleColor": "#000000", "labelFontSize": 6.5, "labelColor": "#4D4D4D", "labelOverlap": false, "labelBound": false, "labelFlush": false, "labelSeparation": 0, "values": [-0.4, -0.3, -0.2, -0.1, 0], "labelExpr": "format(datum.value, '.1f')", "grid": true, "tickSize": 2.5, "titlePadding": 3, "labelPadding": 1}},
                 "y2": {"field": "hi"}}},
              {"data": {"name": "boxes"}, "transform": [{"filter": "datum.p == 'Src' && datum.g == 'E'"}], "mark": {"type": "bar", "stroke": "#333333", "strokeWidth": 0.5},
               "encoding": {"xOffset": {"field": "c", "type": "nominal", "scale": {"domain": ["H1975", "HCC366", "HCC4006"], "paddingInner": 0.05}}, "y": {"field": "q1", "type": "quantitative"}, "y2": {"field": "q3"},
                 "fill": {"field": "c", "type": "nominal", "title": "CellLine", "scale": {"domain": ["Calu-6", "H1792", "H1975", "HCC366", "HCC4006"], "range": ["#F8766D", "#A3A500", "#00BF7D", "#00B0F6", "#E76BF3"]}, "legend": {"orient": "none", "legendX": 552, "legendY": -37, "symbolType": "square", "symbolSize": 40, "symbolStrokeColor": "#333333", "symbolStrokeWidth": 0.5, "labelFontSize": 7, "titleFontSize": 7.5, "titleFontWeight": "normal", "rowPadding": 0.5, "titlePadding": 1, "labelOffset": 2}}}},
              {"data": {"name": "boxes"}, "transform": [{"filter": "datum.p == 'Src' && datum.g == 'E'"}], "mark": {"type": "bar", "fillOpacity": 0, "stroke": "#1A1A1A", "strokeWidth": 0.9},
               "encoding": {"xOffset": {"field": "c", "type": "nominal", "scale": {"domain": ["H1975", "HCC366", "HCC4006"], "paddingInner": 0.05}}, "y": {"field": "med", "type": "quantitative"}, "y2": {"field": "med"}}},
              {"data": {"name": "dots"}, "transform": [{"filter": "datum.p == 'Src' && datum.g == 'E'"}], "mark": {"type": "point", "filled": true, "color": "#000000", "size": 7, "opacity": 1},
               "encoding": {"y": {"field": "v", "type": "quantitative"}}}
             ]}
          ]},
          {"spacing": 0, "bounds": "flush", "vconcat": [
            {"data": {"values": [{"strip": "Mesenchymal"}]}, "width": 94, "height": 8, "view": {"fill": "#D9D9D9", "stroke": "#333333", "strokeWidth": 0.8}, "mark": {"type": "text", "fontWeight": "bold", "fontSize": 6.5, "color": "#1A1A1A", "baseline": "middle"}, "encoding": {"text": {"field": "strip", "type": "nominal"}}},
            {"width": 94, "height": 129, "view": {"stroke": "#333333", "strokeWidth": 0.8},
             "encoding": {"x": {"field": "t", "type": "nominal", "scale": {"domain": ["Control", "Volasertib"], "paddingInner": 0.25, "paddingOuter": 0.225}, "axis": {"title": null, "labelAngle": 0, "grid": true, "bandPosition": 0.5, "labelFontSize": 7, "labelColor": "#333333", "tickSize": 2.5, "labelPadding": 1}}},
             "layer": [
              {"data": {"name": "boxes"}, "transform": [{"filter": "datum.p == 'Src' && datum.g == 'M'"}], "mark": {"type": "rule", "color": "#333333", "strokeWidth": 0.5},
               "encoding": {"xOffset": {"field": "c", "type": "nominal", "scale": {"domain": ["Calu-6", "H1792", "H1975", "HCC366", "HCC4006"], "paddingInner": 0.05}},
                 "y": {"field": "lo", "type": "quantitative", "scale": {"domain": [-0.405, 0.033], "nice": false, "zero": false}, "axis": {"title": null, "labels": false, "ticks": false, "grid": true, "values": [-0.4, -0.3, -0.2, -0.1, 0]}},
                 "y2": {"field": "hi"}}},
              {"data": {"name": "boxes"}, "transform": [{"filter": "datum.p == 'Src' && datum.g == 'M'"}], "mark": {"type": "bar", "stroke": "#333333", "strokeWidth": 0.5},
               "encoding": {"xOffset": {"field": "c", "type": "nominal", "scale": {"domain": ["Calu-6", "H1792", "H1975", "HCC366", "HCC4006"], "paddingInner": 0.05}}, "y": {"field": "q1", "type": "quantitative"}, "y2": {"field": "q3"},
                 "fill": {"field": "c", "type": "nominal", "title": "CellLine", "scale": {"domain": ["Calu-6", "H1792", "H1975", "HCC366", "HCC4006"], "range": ["#F8766D", "#A3A500", "#00BF7D", "#00B0F6", "#E76BF3"]}, "legend": {"orient": "none", "legendX": 552, "legendY": -37, "symbolType": "square", "symbolSize": 40, "symbolStrokeColor": "#333333", "symbolStrokeWidth": 0.5, "labelFontSize": 7, "titleFontSize": 7.5, "titleFontWeight": "normal", "rowPadding": 0.5, "titlePadding": 1, "labelOffset": 2}}}},
              {"data": {"name": "boxes"}, "transform": [{"filter": "datum.p == 'Src' && datum.g == 'M'"}], "mark": {"type": "bar", "fillOpacity": 0, "stroke": "#1A1A1A", "strokeWidth": 0.9},
               "encoding": {"xOffset": {"field": "c", "type": "nominal", "scale": {"domain": ["Calu-6", "H1792", "H1975", "HCC366", "HCC4006"], "paddingInner": 0.05}}, "y": {"field": "med", "type": "quantitative"}, "y2": {"field": "med"}}},
              {"data": {"name": "dots"}, "transform": [{"filter": "datum.p == 'Src' && datum.g == 'M'"}], "mark": {"type": "point", "filled": true, "color": "#000000", "size": 7, "opacity": 1},
               "encoding": {"y": {"field": "v", "type": "quantitative"}}}
             ]}
          ]}
        ]
      }
    ]
  },
  {
    "width": 627, "height": 306,
    "view": {"stroke": null},
    "encoding": {
      "x": {"field": "x", "type": "quantitative", "scale": {"domain": [3, 630], "nice": false, "zero": false}, "axis": null},
      "y": {"field": "y", "type": "quantitative", "scale": {"domain": [194, 500], "nice": false, "zero": false, "reverse": true}, "axis": null}
    },
    "layer": [
      {"data": {"name": "lines"}, "mark": {"type": "rule", "color": "#333333", "strokeWidth": 0.8}, "encoding": {"x2": {"field": "x2"}, "y2": {"field": "y2"}}},
      {"data": {"name": "heads"}, "transform": [{"filter": "datum.dir == 'left'"}], "mark": {"type": "point", "shape": "M-1,-0.75L0,0L-1,0.75", "angle": 127, "size": 45, "filled": false, "stroke": "#333333", "strokeWidth": 0.8, "opacity": 1}},
      {"data": {"name": "heads"}, "transform": [{"filter": "datum.dir == 'right'"}], "mark": {"type": "point", "shape": "M-1,-0.75L0,0L-1,0.75", "angle": 53, "size": 45, "filled": false, "stroke": "#333333", "strokeWidth": 0.8, "opacity": 1}},
      {"data": {"name": "diag"}, "transform": [{"filter": "datum.kind == 'letter'"}], "mark": {"type": "text", "font": "Liberation Sans", "fontWeight": "bold", "fontSize": 15, "align": "left", "color": "#000000"}, "encoding": {"text": {"field": "text"}}},
      {"data": {"name": "diag"}, "transform": [{"filter": "datum.kind == 'headE'"}], "mark": {"type": "text", "font": "Liberation Serif", "fontWeight": "bold", "fontSize": 11, "color": "#E31E24"}, "encoding": {"text": {"field": "text"}}},
      {"data": {"name": "diag"}, "transform": [{"filter": "datum.kind == 'headM'"}], "mark": {"type": "text", "font": "Liberation Serif", "fontWeight": "bold", "fontSize": 11, "color": "#2E3192"}, "encoding": {"text": {"field": "text"}}},
      {"data": {"name": "diag"}, "transform": [{"filter": "datum.kind == 'cellE'"}], "mark": {"type": "text", "font": "Liberation Serif", "fontSize": 8, "color": "#E8474C"}, "encoding": {"text": {"field": "text"}}},
      {"data": {"name": "diag"}, "transform": [{"filter": "datum.kind == 'cellM'"}], "mark": {"type": "text", "font": "Liberation Serif", "fontSize": 8, "color": "#4A55A8"}, "encoding": {"text": {"field": "text"}}},
      {"data": {"name": "diag"}, "transform": [{"filter": "datum.kind == 'cond'"}], "mark": {"type": "text", "font": "Liberation Serif", "fontSize": 11.5, "color": "#000000"}, "encoding": {"text": {"field": "text"}}},
      {"data": {"name": "diag"}, "transform": [{"filter": "datum.kind == 'change'"}], "mark": {"type": "text", "font": "Liberation Serif", "fontSize": 11, "color": "#000000"}, "encoding": {"text": {"field": "text"}}}
    ]
  },
  {
    "title": {"text": "C", "anchor": "start", "frame": "bounds", "font": "Liberation Sans", "fontSize": 15, "fontWeight": "bold", "offset": 1},
    "width": 597, "height": 273,
    "view": {"stroke": "#8C8C8C", "strokeWidth": 0.8},
    "layer": [
      {"data": {"name": "fc"}, "transform": [{"fold": ["resistant", "sensitive"], "as": ["comparison", "lfc"]}],
       "mark": {"type": "bar"},
       "encoding": {
         "x": {"field": "protein", "type": "nominal", "sort": null,
           "scale": {"paddingInner": 0.08, "paddingOuter": 0.13, "domain": ["NDRG1_pT346","YB1_pS102","p90RSK_pT573","PRAS40_pT246","c.Jun_pS73","p38_pT180_Y182","Fibronectin","PLK1","LRP6_pS1490","Vimentin","Elk1_pS383","ATR_pS428","X4E.BP1_pS65","ADAR1","p27_pT198","NDUFB4","eIF4E_pS209","Stathmin.1","b.Catenin_pT41_S45","D.a.Tubulin","Rictor_pT1135","PTEN","Smad1","TTF1","BAP1","PDK1","Gys_pS641","PI3K.p85","Tyro3","Lck","JNK2","IGFRb","PKC.a_pS657","Cox.IV","XPA","INPP4b","MSH6","FAK","Chk1","Mcl.1","Tuberin","Akt","Paxillin","P.Cadherin","Gab2","p70.S6K1","YAP_pS127","Akt_pS473","Hif.1.alpha","Cyclin.D3","c.Met_pY1234_Y1235","p70.S6K_pT389","b.Actin","cdc25C","TFRC","c.Myc","Axl","S6_pS235_S236","SHP.2_pY542","S6_pS240_S244","A.Raf","TAZ","Cyclin.E1","HES1","Wee1","Pdcd4","FAK_pY397","CDK1","Cdc2_pY15","BRD4"]},
           "axis": {"title": null, "labelAngle": 270, "labelFontSize": 8.5, "labelPadding": 2, "tickSize": 3, "grid": true, "bandPosition": 0.5, "labelLimit": 200,
             "labelColor": {"condition": {"test": "indexof(['YB1_pS102','Fibronectin','FAK','c.Met_pY1234_Y1235','SHP.2_pY542','FAK_pY397'], datum.value) >= 0", "value": "#2E4A9E"}, "expr": "indexof(['PRAS40_pT246','X4E.BP1_pS65','Rictor_pT1135','PTEN','PDK1','PI3K.p85','PKC.a_pS657','Akt','p70.S6K1','Akt_pS473','p70.S6K_pT389','S6_pS235_S236','S6_pS240_S244'], datum.value) >= 0 ? '#EE7D3A' : '#4D4D4D'"}}},
         "xOffset": {"field": "comparison", "type": "nominal", "scale": {"domain": ["resistant", "sensitive"], "paddingInner": 0}},
         "y": {"field": "lfc", "type": "quantitative", "scale": {"domain": [-1.655, 1.76], "nice": false, "zero": false},
           "axis": {"title": "Log fold change", "titleFontSize": 14.5, "titleFontWeight": "bold", "titleColor": "#000000", "values": [-1.5, -1, -0.5, 0, 0.5, 1, 1.5], "labelExpr": "datum.value % 1 == 0 ? format(datum.value, 'd') : ''", "tickOpacity": {"condition": {"test": "datum.value % 1 == 0", "value": 1}, "value": 0}, "labelFontSize": 8, "labelColor": "#4D4D4D", "labelOverlap": false, "grid": true, "tickSize": 3, "titlePadding": 1}},
         "color": {"field": "comparison", "type": "nominal", "scale": {"domain": ["resistant", "sensitive"], "range": ["#E41E26", "#1F3C96"]},
           "legend": {"title": null, "orient": "none", "legendX": 395, "legendY": 519, "symbolType": "square", "symbolSize": 70, "symbolStrokeWidth": 0, "labelFontSize": 10, "labelColor": "#000000", "rowPadding": 1, "fillColor": "white", "labelExpr": "datum.label == 'resistant' ? 'Treated vs control for resistant' : 'Treated vs control for sensitive'"}}
       }},
      {"data": {"values": [{"note": "70 proteins @ FDR0.01"}]}, "mark": {"type": "text", "fontSize": 12, "color": "#000000", "dx": -4, "font": "Liberation Serif"},
       "encoding": {"x": {"datum": "Cox.IV"}, "y": {"datum": 1.59}, "text": {"field": "note"}}}
    ]
  }
]
}
